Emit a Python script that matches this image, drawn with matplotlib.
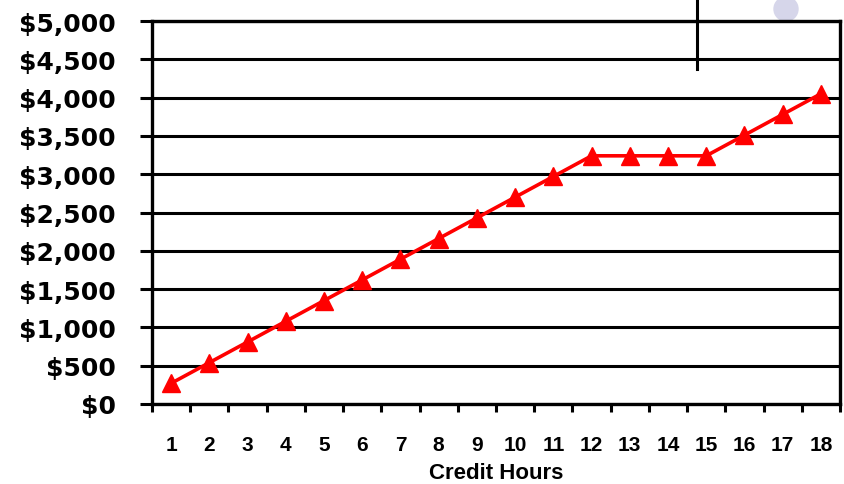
import matplotlib
matplotlib.use("Agg")
import matplotlib.pyplot as plt
import matplotlib.ticker as ticker
from matplotlib.lines import Line2D
from matplotlib.patches import Ellipse

# data
hours = list(range(1, 19))
cost = [270, 540, 810, 1080, 1350, 1620, 1890, 2160, 2430, 2700, 2970,
        3240, 3240, 3240, 3240, 3510, 3780, 4050]
y_ticks = [0, 500, 1000, 1500, 2000, 2500, 3000, 3500, 4000, 4500, 5000]
y_labels = ['$0', '$500', '$1,000', '$1,500', '$2,000', '$2,500', '$3,000',
            '$3,500', '$4,000', '$4,500', '$5,000']

fig = plt.figure(figsize=(8.45, 4.85), dpi=100)
W, H = 845, 485
ax = fig.add_axes([152 / W, (H - 405) / H, 688 / W, 383 / H])

# gridlines
for v in y_ticks:
    ax.axhline(v, color='black', lw=2.2, zorder=1)

ax.plot(hours, cost, color='#ff0000', lw=2.6, marker='^', markersize=13,
        markeredgecolor='#ff0000', zorder=3, clip_on=False)

ax.set_xlim(0.5, 18.5)
ax.set_ylim(0, 5000)

ax.set_yticks(y_ticks)
ax.set_yticklabels(y_labels, fontfamily='DejaVu Sans', fontweight='bold',
                   fontsize=18)
ax.tick_params(axis='y', direction='out', length=9, width=2.2, pad=17)

ax.set_xticks(hours)
ax.set_xticklabels([str(h) for h in hours], fontfamily='Liberation Sans',
                   fontweight='bold', fontsize=15)
ax.xaxis.set_minor_locator(ticker.FixedLocator([h + 0.5 for h in range(0, 19)]))
ax.tick_params(axis='x', which='major', length=0, pad=22)
ax.tick_params(axis='x', which='minor', direction='out', length=6, width=2.2)

ax.set_xlabel('Credit Hours', fontfamily='Liberation Sans', fontweight='bold',
              fontsize=16, labelpad=6)

for side in ['left', 'right', 'bottom', 'top']:
    ax.spines[side].set_color('black')
    ax.spines[side].set_linewidth(2.4)

# stray marks from the original slide
fig.add_artist(Line2D([697 / W, 697 / W], [1, 1 - 70 / H], color='black',
                      lw=2.2, transform=fig.transFigure))
for cx in [786, 858]:
    fig.add_artist(Ellipse((cx / W, 1 - 10 / H), 24 / W, 24 / H,
                           color='#d6d6ea', transform=fig.transFigure,
                           zorder=0))

fig.savefig('out.png', dpi=100)
